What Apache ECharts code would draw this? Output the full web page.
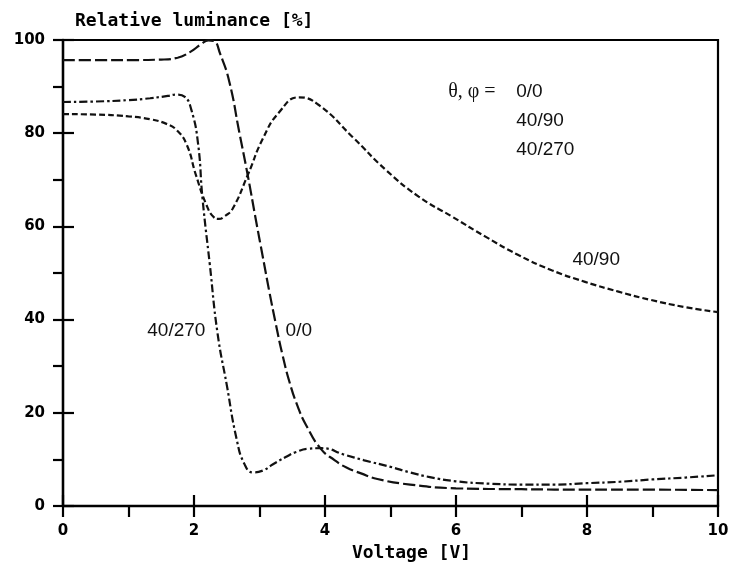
<!DOCTYPE html>
<html>
<head>
<meta charset="utf-8">
<script src="https://cdn.jsdelivr.net/npm/echarts@6/dist/echarts.min.js"></script>
<style>
html,body{margin:0;padding:0;background:#fff;}
#c{width:733px;height:563px;}
</style>
</head>
<body>
<div id="c"></div>
<script>
// ---- data ----
const voltage00 = [0,0.5,1.0,1.5,1.75,1.95,2.1,2.22,2.3,2.4,2.54,2.69,2.82,2.95,3.05,3.15,3.25,3.35,3.46,3.58,3.71,3.94,4.15,4.32,4.55,4.8,5.3,6.0,7.0,8.0,9.0,10.0];
const lum00     = [95.7,95.7,95.7,95.8,96.2,97.5,99.0,99.9,99.8,97,91,80.3,71,61,53.5,46,39,32.5,26.5,21.5,17.4,12.2,9.8,8.3,7,5.8,4.6,3.8,3.6,3.5,3.5,3.4];

const voltage270 = [0,0.5,1.0,1.33,1.6,1.74,1.86,1.96,2.06,2.13,2.24,2.36,2.5,2.65,2.77,2.9,3.05,3.2,3.4,3.56,3.75,3.95,4.3,4.6,5.0,5.3,5.6,6.0,6.5,7.0,7.5,8.0,8.5,9.0,9.5,10];
const lum270     = [86.7,86.8,87.1,87.5,88.0,88.3,87.8,85,78,66,52,37,26,14.4,9,7.2,7.6,8.9,10.5,11.6,12.3,12.4,11,9.8,8.4,7.2,6.2,5.3,4.8,4.6,4.6,4.9,5.2,5.7,6.1,6.6];

const voltage90 = [0,0.5,1.0,1.33,1.58,1.74,1.89,2.03,2.19,2.3,2.38,2.47,2.59,2.82,3.05,3.3,3.6,3.91,4.42,4.93,5.43,5.94,6.45,6.96,7.46,7.97,8.48,8.98,9.49,10];
const lum90     = [84.1,84.0,83.6,83.0,82.0,80.6,77.5,71,64.6,62.0,61.6,62.2,63.8,71,78.8,84.5,87.7,86,79.2,72.1,66.4,62.1,57.8,53.8,50.6,48.1,46.0,44.2,42.7,41.6];

const xTicks = [0,2,4,6,8,10];
const yTicks = [0,20,40,60,80,100];

const titleText = 'Relative luminance [%]';
const xName = 'Voltage [V]';

// annotations (text, data x, data y)
const annText  = ['θ, φ =', '0/0', '40/90', '40/270', '40/90', '40/270', '0/0'];
const annX     = [5.88, 6.92, 6.92, 6.92, 8.14, 1.73, 3.6];
const annY     = [88.9, 88.9, 82.6, 76.4, 52.8, 37.6, 37.6];
const annAlign = ['left','left','left','left','center','center','center'];
const annSerif = [true,false,false,false,false,false,false];

const pairs = (xs, ys) => xs.map((x, i) => [x, ys[i]]);

const chart = echarts.init(document.getElementById('c'), null, {renderer: 'canvas'});

const lineCommon = {
  type: 'line',
  showSymbol: false,
  smooth: 0.5,
  clip: false,
  silent: true
};

const axisFont = {fontFamily: 'DejaVu Sans', fontWeight: 'bold', fontSize: 15, color: '#000'};

chart.setOption({
  animation: false,
  backgroundColor: '#fff',
  title: {
    text: titleText,
    left: 70, top: 7,
    textStyle: {fontFamily: 'DejaVu Sans Mono', fontWeight: 'bold', fontSize: 18, color: '#000'}
  },
  grid: {
    left: 63, right: 15, top: 40, bottom: 57,
    containLabel: false,
    outerBoundsMode: 'none',
    show: true, borderColor: '#000', borderWidth: 2.2, backgroundColor: 'transparent'
  },
  xAxis: [{
    type: 'value', min: 0, max: 10, interval: 2,
    position: 'bottom',
    name: xName, nameLocation: 'middle', nameGap: 38,
    nameTextStyle: {fontFamily: 'DejaVu Sans Mono', fontWeight: 'bold', fontSize: 18, color: '#000', padding: [0,0,0,42]},
    axisLine: {show: true, lineStyle: {color: '#000', width: 2.4}},
    axisTick: {show: true, inside: false, length: 11, lineStyle: {color: '#000', width: 2.2}},
    minorTick: {show: true, splitNumber: 2, length: 11, lineStyle: {color: '#000', width: 2.2}},
    axisLabel: Object.assign({margin: 18, formatter: v => xTicks.includes(v) ? String(v) : ''}, axisFont),
    splitLine: {show: false}
  }, {
    type: 'value', min: 0, max: 10, interval: 2,
    position: 'bottom',
    axisLine: {show: false},
    axisTick: {show: true, inside: true, length: 11, lineStyle: {color: '#000', width: 2.2}},
    axisLabel: {show: false},
    splitLine: {show: false}
  }],
  yAxis: [{
    type: 'value', min: 0, max: 100, interval: 20,
    position: 'left',
    axisLine: {show: true, lineStyle: {color: '#000', width: 2.4}},
    axisTick: {show: true, inside: false, length: 10, lineStyle: {color: '#000', width: 2.2}},
    minorTick: {show: true, splitNumber: 2, length: 10, lineStyle: {color: '#000', width: 2.2}},
    axisLabel: Object.assign({margin: 18, formatter: v => yTicks.includes(v) ? String(v) : ''}, axisFont),
    splitLine: {show: false}
  }, {
    type: 'value', min: 0, max: 100, interval: 20,
    position: 'left',
    axisLine: {show: false},
    axisTick: {show: true, inside: true, length: 11, lineStyle: {color: '#000', width: 2.2}},
    axisLabel: {show: false},
    splitLine: {show: false}
  }],
  series: [
    Object.assign({}, lineCommon, {
      name: '0/0', data: pairs(voltage00, lum00),
      lineStyle: {color: '#111', width: 2.2, type: [12, 4], cap: 'butt'}
    }),
    Object.assign({}, lineCommon, {
      name: '40/90', data: pairs(voltage90, lum90),
      lineStyle: {color: '#111', width: 2.2, type: [6, 3], cap: 'butt'}
    }),
    Object.assign({}, lineCommon, {
      name: '40/270', data: pairs(voltage270, lum270),
      lineStyle: {color: '#111', width: 2.2, type: [8, 3, 2.5, 3], cap: 'butt'}
    })
  ]
});

const graphics = annText.map((t, i) => {
  const p = chart.convertToPixel({gridIndex: 0}, [annX[i], annY[i]]);
  return {
    type: 'text', x: p[0], y: p[1], silent: true,
    style: {
      text: t,
      fontFamily: annSerif[i] ? 'Liberation Serif' : 'Liberation Sans',
      fontSize: annSerif[i] ? 20 : 19,
      fill: '#111',
      align: annAlign[i],
      verticalAlign: 'middle'
    }
  };
});
chart.setOption({graphic: graphics});
</script>
</body>
</html>
